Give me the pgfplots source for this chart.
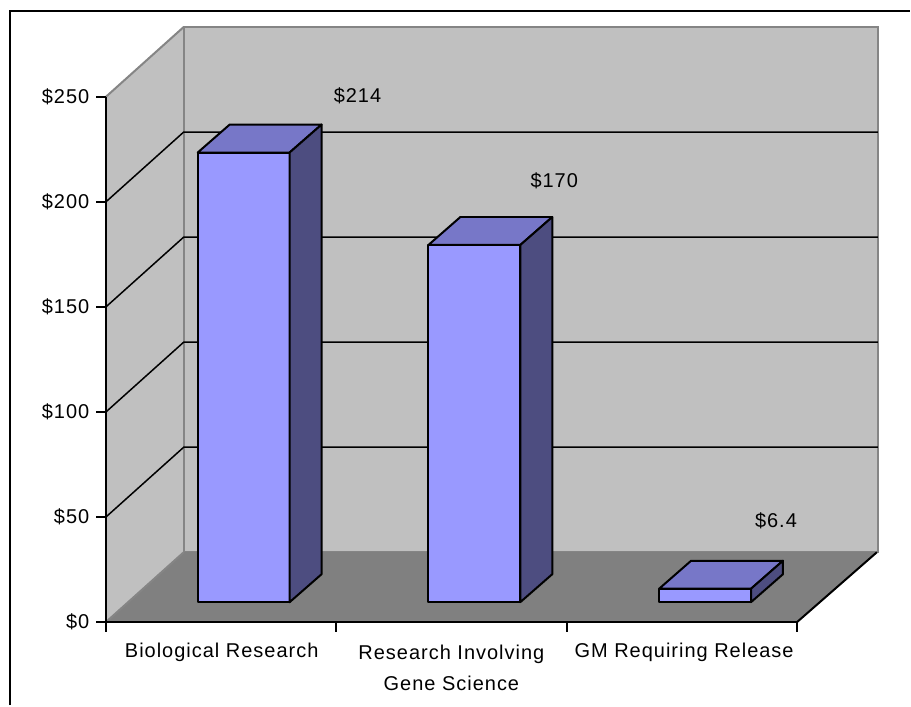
\documentclass[border=0pt]{standalone}
\usepackage{fontspec}
\setmainfont{Liberation Sans}[LetterSpace=5]
\usepackage{pgfplots}
\pgfplotsset{compat=1.18}
\definecolor{wall}{HTML}{C0C0C0}
\definecolor{floorc}{HTML}{808080}
\definecolor{edge}{HTML}{858585}
\definecolor{barfront}{HTML}{9999FF}
\definecolor{bartop}{HTML}{7777C8}
\definecolor{barside}{HTML}{4D4D80}
\begin{document}
\begin{tikzpicture}
\begin{axis}[
  width=346pt, height=263pt, scale only axis,
  xmin=106, xmax=798, ymin=0, ymax=250,
  axis x line=bottom, axis y line=left,
  axis line style={-, line width=1pt, black},
  clip=false, axis on top,
  ytick={0,50,...,250},
  yticklabels={\$0,\$50,\$100,\$150,\$200,\$250},
  xtick={106,336,568,798}, xticklabels={},
  tick align=outside, major tick length=4.75pt,
  tick style={black, line width=1pt},
  yticklabel style={font=\fontsize{10}{12}\selectfont},
]
% invisible extent of the whole picture
\path (axis cs:0,-39.45) rectangle (axis cs:911,296.1);
% side wall
\addplot[fill=wall, draw=none] coordinates {(106,0) (184,33.27) (184,283.27) (106,250)} -- cycle;
% back wall
\addplot[fill=wall, draw=edge, line width=1pt] coordinates {(184,33.27) (879,33.27) (879,283.27) (184,283.27)} -- cycle;
% floor
\addplot[fill=floorc, draw=none] coordinates {(106,0) (184,33.27) (878,33.27) (798,0)} -- cycle;
\addplot[black, line width=1pt] coordinates {(798,0) (878,33.27)};
\addplot[edge, line width=1pt] coordinates {(106,250) (184,283.27)};
\addplot[edge, line width=1pt] coordinates {(106,0) (184,33.27)};
% gridlines
\addplot[black, line width=0.75pt] coordinates {(106,50) (184,83.27) (879,83.27)};
\addplot[black, line width=0.75pt] coordinates {(106,100) (184,133.27) (879,133.27)};
\addplot[black, line width=0.75pt] coordinates {(106,150) (184,183.27) (879,183.27)};
\addplot[black, line width=0.75pt] coordinates {(106,200) (184,233.27) (879,233.27)};
% bar 1: 214
\addplot[fill=barfront, draw=black, line width=1pt, line join=round] coordinates {(198,9.51) (290,9.51) (290,223.51) (198,223.51)} -- cycle;
\addplot[fill=bartop, draw=black, line width=1pt, line join=round] coordinates {(198,223.51) (290,223.51) (322,236.82) (230,236.82)} -- cycle;
\addplot[fill=barside, draw=black, line width=1pt, line join=round] coordinates {(290,9.51) (322,22.82) (322,236.82) (290,223.51)} -- cycle;
% bar 2: 170
\addplot[fill=barfront, draw=black, line width=1pt, line join=round] coordinates {(429,9.51) (521,9.51) (521,179.51) (429,179.51)} -- cycle;
\addplot[fill=bartop, draw=black, line width=1pt, line join=round] coordinates {(429,179.51) (521,179.51) (553,192.82) (461,192.82)} -- cycle;
\addplot[fill=barside, draw=black, line width=1pt, line join=round] coordinates {(521,9.51) (553,22.82) (553,192.82) (521,179.51)} -- cycle;
% bar 3: 6.4
\addplot[fill=barfront, draw=black, line width=1pt, line join=round] coordinates {(660,9.51) (752,9.51) (752,15.91) (660,15.91)} -- cycle;
\addplot[fill=bartop, draw=black, line width=1pt, line join=round] coordinates {(660,15.91) (752,15.91) (784,29.22) (692,29.22)} -- cycle;
\addplot[fill=barside, draw=black, line width=1pt, line join=round] coordinates {(752,9.51) (784,22.82) (784,29.22) (752,15.91)} -- cycle;
% value labels
\node[font=\fontsize{10}{12}\selectfont] at (axis cs:358,250.5) {\$214};
\node[font=\fontsize{10}{12}\selectfont] at (axis cs:555,210.1) {\$170};
\node[font=\fontsize{10}{12}\selectfont] at (axis cs:777,48.0) {\$6.4};
% category labels
\node[font=\fontsize{10}{15.5}\selectfont, align=center] at (axis cs:222,-14.26) {Biological Research};
\node[font=\fontsize{10}{15.5}\selectfont, align=center] at (axis cs:452,-21.6) {Research Involving\\Gene Science};
\node[font=\fontsize{10}{15.5}\selectfont, align=center] at (axis cs:685,-14.26) {GM Requiring Release};
% outer frame (top and left edges visible)
\draw[line width=1.2pt] (axis cs:10,-39.45) -- (axis cs:10,290.87) -- (axis cs:911,290.87);
\end{axis}
\end{tikzpicture}
\end{document}
